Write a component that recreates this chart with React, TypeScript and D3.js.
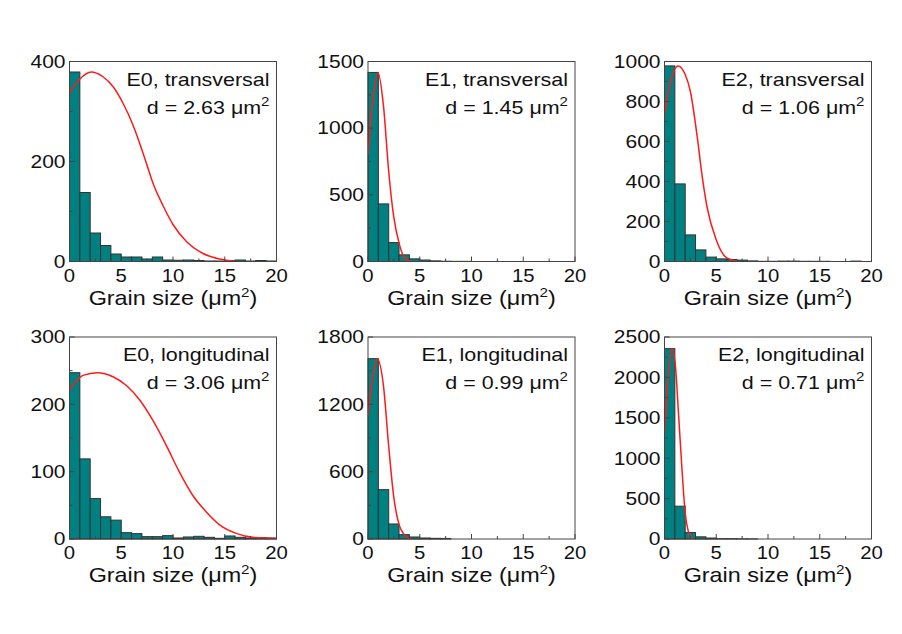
import React from 'react';
import * as d3 from 'd3';

// histogram bins (lower edge, width 1 µm²)
const binStarts = [0, 1, 2, 3, 4, 5, 6, 7, 8, 9, 10, 11, 12, 13, 14, 15, 16, 17, 18, 19];
const xTicks = [0, 5, 10, 15, 20];
const xMinorTicks = [2.5, 7.5, 12.5, 17.5];

// counts per bin
const e0TransCounts = [379, 138, 57, 32, 15, 9, 9, 5, 9, 3, 2.5, 3, 2, 1, 1, 2, 3, 1, 2, 1];
const e1TransCounts = [1418, 432, 142, 50, 20, 11, 5, 2, 1, 1, 0, 0, 0, 0, 0, 0, 0, 0, 0, 0];
const e2TransCounts = [978, 388, 133, 58, 22, 13, 10, 7, 3, 1, 1, 2, 2, 1, 1, 1, 0, 0, 2, 0];
const e0LongCounts = [247, 119, 60, 33, 28, 9.4, 8, 3.5, 3.5, 5, 1.5, 3, 4, 2.5, 1, 4.5, 2.5, 1.5, 2, 1.5];
const e1LongCounts = [1607, 440, 134, 39, 18, 9, 6, 5, 0, 0, 0, 0, 0, 0, 0, 0, 0, 0, 0, 0];
const e2LongCounts = [2356, 406, 80, 27, 12, 4, 4, 2, 1, 0, 0, 0, 0, 0, 0, 0, 0, 0, 0, 0];

// fitted curves [x, count]
const e0TransFit = [[0, 337], [1, 365], [2.1, 379], [3.2, 370], [4.2, 350], [5.16, 317], [6.13, 273], [6.77, 237], [7.42, 197], [8.06, 157], [9.03, 112], [10, 74], [11.3, 40], [12.9, 16], [14.5, 5], [16, 0.5]];
const e1TransFit = [[0, 800], [0.5, 1237], [0.96, 1418], [1.5, 1163], [2, 675], [2.48, 338], [3, 138], [3.44, 38], [3.76, 12], [4.2, 0]];
const e2TransFit = [[0, 733], [0.5, 880], [1.3, 978], [2, 935], [2.5, 850], [3.2, 608], [3.6, 442], [4.1, 275], [5, 108], [5.85, 25], [6.5, 8], [7.1, 0]];
const e0LongFit = [[0, 222], [1.3, 243], [2.7, 247], [4.2, 241], [5.5, 228], [6.8, 206], [8.06, 176], [9.35, 139], [10.6, 100], [11.9, 65], [13.2, 40.5], [14.5, 21], [16.1, 8.4], [17.7, 2.5], [19.4, 1], [20, 0.5]];
const e1LongFit = [[0, 1093], [0.5, 1460], [0.9, 1607], [1.5, 1360], [2, 826], [2.48, 380], [3, 128], [3.5, 39], [4, 5], [4.2, 0]];
const e2LongFit = [[0, 1312], [0.35, 2000], [0.7, 2356], [1.03, 2178], [1.35, 1560], [1.67, 900], [2, 322], [2.3, 95], [2.64, 12], [2.75, 0]];

// y axis ticks
const e0TransYTicks = [0, 200, 400];
const e1TransYTicks = [0, 500, 1000, 1500];
const e2TransYTicks = [0, 200, 400, 600, 800, 1000];
const e0LongYTicks = [0, 100, 200, 300];
const e1LongYTicks = [0, 600, 1200, 1800];
const e2LongYTicks = [0, 500, 1000, 1500, 2000, 2500];

const sampleNames = ['E0, transversal', 'E1, transversal', 'E2, transversal', 'E0, longitudinal', 'E1, longitudinal', 'E2, longitudinal'];
const meanSizes = ['2.63', '1.45', '1.06', '3.06', '0.99', '0.71'];

const panels = [
  { counts: e0TransCounts, fit: e0TransFit, yTicks: e0TransYTicks },
  { counts: e1TransCounts, fit: e1TransFit, yTicks: e1TransYTicks },
  { counts: e2TransCounts, fit: e2TransFit, yTicks: e2TransYTicks },
  { counts: e0LongCounts, fit: e0LongFit, yTicks: e0LongYTicks },
  { counts: e1LongCounts, fit: e1LongFit, yTicks: e1LongYTicks },
  { counts: e2LongCounts, fit: e2LongFit, yTicks: e2LongYTicks },
].map((p, i) => ({ ...p, name: sampleNames[i], d: meanSizes[i] }));

const colLeft = [69.5, 368, 664.5];
const rowTop = [61.5, 337];
const rowHeight = [200, 202];
const plotW = 207;
const font = '"Liberation Sans", Arial, sans-serif';

// the scanned figure is a bit stretched sideways, so text gets a horizontal scale
const Txt = ({ x, y, anchor = 'start', size, sx = 1.18, dy = undefined, children }) => (
  <text transform={`translate(${x},${y}) scale(${sx},1)`} textAnchor={anchor} fontSize={size} dy={dy} fill="#111">
    {children}
  </text>
);

const Panel = ({ p, idx }) => {
  const left = colLeft[idx % 3];
  const top = rowTop[Math.floor(idx / 3)];
  const h = rowHeight[Math.floor(idx / 3)];
  const yMax = p.yTicks[p.yTicks.length - 1];

  const x = d3.scaleLinear().domain([0, 20]).range([left, left + plotW]);
  const y = d3.scaleLinear().domain([0, yMax]).range([top + h, top]);

  const minorY = p.yTicks.slice(1).map((t, i) => (t + p.yTicks[i]) / 2);
  const line = d3.line()
    .x(d => x(d[0]))
    .y(d => y(d[1]))
    .curve(d3.curveMonotoneX);

  const clipId = `clip${idx}`;
  const bottom = top + h;

  return (
    <g>
      <clipPath id={clipId}>
        <rect x={left} y={top} width={plotW} height={h} />
      </clipPath>
      {binStarts.map((b, i) => p.counts[i] > 0 && (
        <rect key={b}
          x={x(b)} y={y(p.counts[i])}
          width={x(b + 1) - x(b)} height={bottom - y(p.counts[i])}
          fill="#008080" stroke="#333" strokeWidth={1} />
      ))}
      <path d={line(p.fit)} fill="none" stroke="#ff1a1a" strokeWidth={1.5} clipPath={`url(#${clipId})`} />
      <rect x={left} y={top} width={plotW} height={h} fill="none" stroke="#444" strokeWidth={1} />

      {/* ticks, pointing inward */}
      {xTicks.map(t => <line key={'xt' + t} x1={x(t)} x2={x(t)} y1={bottom} y2={bottom - 5} stroke="#444" />)}
      {xMinorTicks.map(t => <line key={'xm' + t} x1={x(t)} x2={x(t)} y1={bottom} y2={bottom - 3} stroke="#444" />)}
      {p.yTicks.map(t => <line key={'yt' + t} x1={left} x2={left + 5} y1={y(t)} y2={y(t)} stroke="#444" />)}
      {minorY.map(t => <line key={'ym' + t} x1={left} x2={left + 3} y1={y(t)} y2={y(t)} stroke="#444" />)}

      {xTicks.map(t => (
        <Txt key={'xl' + t} x={x(t)} y={bottom + 20} anchor="middle" size={17.5} sx={1.16}>{t}</Txt>
      ))}
      {p.yTicks.map(t => (
        <Txt key={'yl' + t} x={left - 4} y={y(t)} dy="0.36em" anchor="end" size={17.5} sx={1.2}>{t}</Txt>
      ))}

      <Txt x={left + plotW / 2} y={bottom + 43} anchor="middle" size={20} sx={1.17}>
        Grain size (μm<tspan dy={-8} fontSize={13}>2</tspan><tspan dy={8}>)</tspan>
      </Txt>

      <Txt x={left + plotW - 7} y={top + 24} anchor="end" size={18.5} sx={1.16}>{p.name}</Txt>
      <Txt x={left + plotW - 7} y={top + 52} anchor="end" size={18.5} sx={1.16}>
        d = {p.d} μm<tspan dy={-8} fontSize={13}>2</tspan>
      </Txt>
    </g>
  );
};

export default function App() {
  return (
    <svg width={902} height={634} style={{ position: 'absolute', left: 0, top: 0, background: '#fff' }} fontFamily={font}>
      {panels.map((p, i) => <Panel key={i} p={p} idx={i} />)}
    </svg>
  );
}
